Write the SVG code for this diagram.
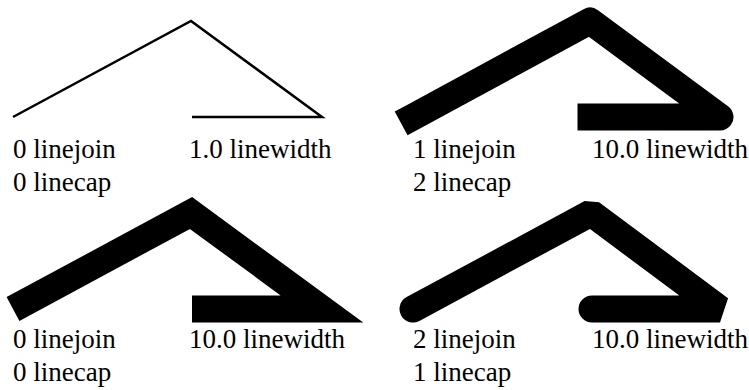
<svg xmlns="http://www.w3.org/2000/svg" width="749" height="390" viewBox="0 0 749 390">
  <style>
    .lbl { font-family: "Liberation Serif", "Times New Roman", serif; font-size: 27px; fill: #000; }
    .path { fill: none; stroke: #000; }
    .thin { stroke-width: 2.5; stroke-linejoin: miter; stroke-linecap: butt; }
    .thick { stroke-width: 27; stroke-miterlimit: 10; }
  </style>
  <rect width="749" height="390" fill="#fff"/>

  <!-- 0 linejoin, 0 linecap, 1.0 linewidth -->
  <g id="panel-miter-thin">
    <path class="path thin" d="M13,117 L191,21 L322,117 L192,117"/>
    <text class="lbl" x="13" y="158">0 linejoin</text>
    <text class="lbl" x="13" y="191">0 linecap</text>
    <text class="lbl" x="189" y="158">1.0 linewidth</text>
  </g>

  <!-- 1 linejoin (round), 2 linecap (square) -->
  <g id="panel-round-square">
    <path class="path thick" stroke-linejoin="round" stroke-linecap="square" d="M413,117 L590,21 L720,117 L591,117"/>
    <text class="lbl" x="413" y="158">1 linejoin</text>
    <text class="lbl" x="413" y="191">2 linecap</text>
    <text class="lbl" x="592" y="158">10.0 linewidth</text>
  </g>

  <!-- 0 linejoin (miter), 0 linecap (butt) -->
  <g id="panel-miter-butt">
    <path class="path thick" stroke-linejoin="miter" stroke-linecap="butt" d="M13,309 L191,213 L322,309 L192,309"/>
    <text class="lbl" x="13" y="348">0 linejoin</text>
    <text class="lbl" x="13" y="381">0 linecap</text>
    <text class="lbl" x="189" y="348">10.0 linewidth</text>
  </g>

  <!-- 2 linejoin (bevel), 1 linecap (round) -->
  <g id="panel-bevel-round">
    <path class="path thick" stroke-linejoin="bevel" stroke-linecap="round" d="M413,309 L591,213 L720,309 L592,309"/>
    <text class="lbl" x="413" y="348">2 linejoin</text>
    <text class="lbl" x="413" y="381">1 linecap</text>
    <text class="lbl" x="592" y="348">10.0 linewidth</text>
  </g>
</svg>
